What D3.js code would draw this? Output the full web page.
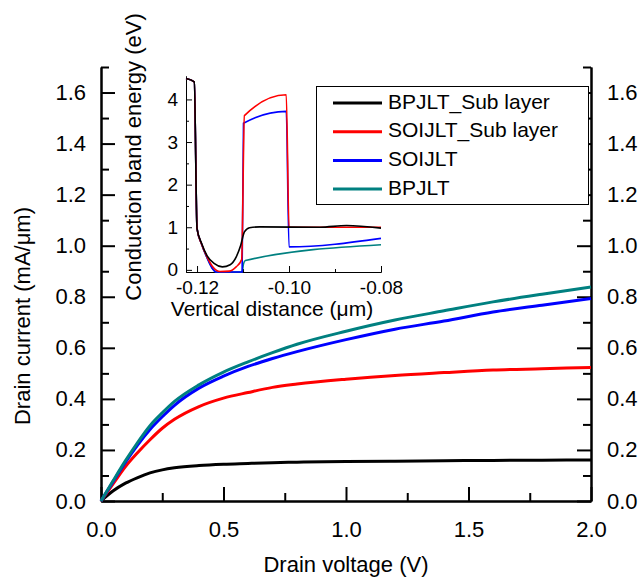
<!DOCTYPE html>
<html lang="en">
	<head>
		<meta charset="utf-8">
		<title>Drain current</title>
		<script type="text/javascript" src="https://cdn.jsdelivr.net/npm/d3@7"></script>
		<style type="text/css">
			body { margin: 0; background: #fff; }
			svg { display: block; }
			svg text { font-family: "Liberation Sans", Arial, sans-serif; }
		</style>
	</head>
	<body>
        <svg width="640" height="583"></svg>
		<script type="text/javascript">

            // main plot: drain current vs drain voltage
            const seriesNames = ['BPJLT_Sub layer', 'SOIJLT_Sub layer', 'SOIJLT', 'BPJLT'];
            const seriesColors = ['#000000', '#ff0000', '#0000ff', '#008080'];

            const voltage = [0, 0.05, 0.1, 0.15, 0.2, 0.25, 0.3, 0.4, 0.5, 0.6, 0.7, 0.8, 1.0, 1.2, 1.4, 1.6, 1.8, 2.0];
            const bpjltSub = [0, 0.040, 0.070, 0.092, 0.110, 0.122, 0.130, 0.139, 0.144, 0.147, 0.150, 0.152, 0.155, 0.156, 0.158, 0.159, 0.160, 0.161];
            const soijltSub = [0, 0.068, 0.135, 0.190, 0.240, 0.285, 0.320, 0.370, 0.403, 0.425, 0.445, 0.458, 0.477, 0.492, 0.503, 0.513, 0.518, 0.523];
            const soijlt = [0, 0.077, 0.152, 0.220, 0.280, 0.330, 0.375, 0.442, 0.489, 0.527, 0.558, 0.585, 0.632, 0.673, 0.705, 0.740, 0.767, 0.793];
            const bpjlt = [0, 0.080, 0.158, 0.230, 0.295, 0.345, 0.390, 0.455, 0.505, 0.545, 0.581, 0.614, 0.665, 0.709, 0.745, 0.780, 0.810, 0.838];

            const xMajorTicks = [0, 0.5, 1.0, 1.5, 2.0];
            const xMinorTicks = [0.25, 0.75, 1.25, 1.75];
            const yMajorTicks = [0, 0.2, 0.4, 0.6, 0.8, 1.0, 1.2, 1.4, 1.6];
            const yMinorTicks = [0.1, 0.3, 0.5, 0.7, 0.9, 1.1, 1.3, 1.5, 1.7];

            // inset: conduction band energy vs vertical distance
            const insetBpjltSubX = [-0.1224, -0.1206, -0.1200, -0.1190, -0.1178, -0.1163, -0.1145, -0.1128, -0.1115, -0.1105, -0.1097, -0.1086, -0.1064, -0.0933, -0.0875, -0.0800];
            const insetBpjltSubY = [4.49, 4.41, 0.97, 0.62, 0.33, 0.15, 0.07, 0.12, 0.30, 0.58, 0.89, 0.99, 1.01, 1.00, 1.04, 0.98];
            const insetSoijltSubX = [-0.1224, -0.1206, -0.1200, -0.1190, -0.1178, -0.1165, -0.1150, -0.1130, -0.1115, -0.1103, -0.1097, -0.1006, -0.1000, -0.0800];
            const insetSoijltSubY = [4.49, 4.41, 0.97, 0.60, 0.30, 0.06, -0.04, -0.03, 0.07, 0.24, 3.62, 4.11, 1.00, 1.00];
            const insetSoijltX = [-0.1224, -0.1206, -0.1200, -0.1190, -0.1178, -0.1167, -0.1158, -0.1102, -0.1099, -0.1006, -0.1000, -0.0800];
            const insetSoijltY = [4.49, 4.41, 0.97, 0.60, 0.28, 0.04, -0.05, -0.05, 3.44, 3.72, 0.54, 0.74];
            const insetBpjltX = [-0.1224, -0.1206, -0.1200, -0.1190, -0.1178, -0.1167, -0.1158, -0.1102, -0.1099, -0.1095, -0.0800];
            const insetBpjltY = [4.49, 4.41, 0.97, 0.60, 0.28, 0.04, -0.05, -0.05, 0.14, 0.22, 0.59];

            const insetXMajor = [-0.12, -0.10, -0.08];
            const insetXMinor = [-0.11, -0.09];
            const insetYMajor = [0, 1, 2, 3, 4];
            const insetYMinor = [0.5, 1.5, 2.5, 3.5];

            const margin = { left: 101, right: 49, top: 67, bottom: 82 };

            const svg = d3.select('svg');
            const width = +svg.attr('width');
            const height = +svg.attr('height');
            const innerWidth = width - margin.left - margin.right;
            const innerHeight = height - margin.top - margin.bottom;

            const g = svg.append('g')
                .attr('transform', `translate(${margin.left}, ${margin.top})`);

            const xScale = d3.scaleLinear().domain([0, 2]).range([0, innerWidth]);
            const yScale = d3.scaleLinear().domain([0, 1.7]).range([innerHeight, 0]);

            const styleAxis = (sel, fontSize, lineW) => {
                sel.attr('font-family', null).attr('font-size', null);
                sel.select('.domain').attr('stroke', '#000').attr('stroke-width', lineW);
                sel.selectAll('.tick line').attr('stroke', '#000').attr('stroke-width', lineW);
                sel.selectAll('.tick text').attr('fill', '#000').style('font-size', fontSize + 'px');
                // minor-tick axes carry empty labels: drop them
                sel.selectAll('.tick text').filter(function () { return this.textContent === ''; }).remove();
            };

            // minor ticks first, then major axes on top
            g.append('g').attr('transform', `translate(0, ${innerHeight})`)
                .call(d3.axisBottom(xScale).tickValues(xMinorTicks).tickFormat('').tickSize(-8).tickSizeOuter(0))
                .call(s => styleAxis(s, 21, 2));
            g.append('g')
                .call(d3.axisLeft(yScale).tickValues(yMinorTicks).tickFormat('').tickSize(-8).tickSizeOuter(0))
                .call(s => styleAxis(s, 21, 2));
            g.append('g').attr('transform', `translate(${innerWidth}, 0)`)
                .call(d3.axisRight(yScale).tickValues(yMinorTicks).tickFormat('').tickSize(-8).tickSizeOuter(0))
                .call(s => styleAxis(s, 21, 2));

            g.append('g').attr('transform', `translate(0, ${innerHeight})`)
                .call(d3.axisBottom(xScale).tickValues(xMajorTicks).tickFormat(d3.format('.1f')).tickSize(-14).tickSizeOuter(0).tickPadding(20))
                .call(s => styleAxis(s, 22, 2));
            g.append('g')
                .call(d3.axisLeft(yScale).tickValues(yMajorTicks).tickFormat(d3.format('.1f')).tickSize(-14).tickSizeOuter(0).tickPadding(15))
                .call(s => styleAxis(s, 22, 2));
            g.append('g').attr('transform', `translate(${innerWidth}, 0)`)
                .call(d3.axisRight(yScale).tickValues(yMajorTicks).tickFormat(d3.format('.1f')).tickSize(-14).tickSizeOuter(0).tickPadding(16))
                .call(s => styleAxis(s, 22, 2));

            const mainSeries = [bpjltSub, soijltSub, soijlt, bpjlt];
            const line = d3.line()
                .x(d => xScale(d[0]))
                .y(d => yScale(d[1]))
                .curve(d3.curveMonotoneX);

            mainSeries.forEach((vals, i) => {
                g.append('path')
                    .datum(voltage.map((v, j) => [v, vals[j]]))
                    .attr('fill', 'none')
                    .attr('stroke', seriesColors[i])
                    .attr('stroke-width', 3)
                    .attr('d', line);
            });

            svg.append('text')
                .attr('x', margin.left + innerWidth / 2)
                .attr('y', 566)
                .attr('text-anchor', 'middle')
                .attr('dominant-baseline', 'middle')
                .style('font-size', '22px')
                .text('Drain voltage (V)');

            svg.append('text')
                .attr('transform', 'translate(24, 316) rotate(-90)')
                .attr('text-anchor', 'middle')
                .attr('dominant-baseline', 'middle')
                .style('font-size', '22px')
                .text('Drain current (mA/μm)');

            // ---- inset ----
            const inset = { left: 186, right: 381, top: 76, bottom: 272 };
            const ix = d3.scaleLinear().domain([-0.1224, -0.08]).range([inset.left, inset.right]);
            const iy = d3.scaleLinear().domain([-0.05, 4.55]).range([inset.bottom, inset.top]);

            const ig = svg.append('g');

            ig.append('g').attr('transform', `translate(0, ${inset.bottom})`)
                .call(d3.axisBottom(ix).tickValues(insetXMinor).tickFormat('').tickSize(-3).tickSizeOuter(0))
                .call(s => styleAxis(s, 19, 1));
            ig.append('g').attr('transform', `translate(${inset.left}, 0)`)
                .call(d3.axisLeft(iy).tickValues(insetYMinor).tickFormat('').tickSize(-3).tickSizeOuter(0))
                .call(s => styleAxis(s, 19, 1));
            ig.append('g').attr('transform', `translate(0, ${inset.bottom})`)
                .call(d3.axisBottom(ix).tickValues(insetXMajor).tickFormat(d3.format('.2f')).tickSize(-6).tickSizeOuter(0).tickPadding(9))
                .call(s => styleAxis(s, 19, 1));
            ig.append('g').attr('transform', `translate(${inset.left}, 0)`)
                .call(d3.axisLeft(iy).tickValues(insetYMajor).tickFormat(d3.format('d')).tickSize(-6).tickSizeOuter(0).tickPadding(8))
                .call(s => styleAxis(s, 19, 1));
            // ASCII hyphen for negative labels, like the reference
            ig.selectAll('.tick text').text(function () { return this.textContent.replace('−', '-'); });

            const insetX = [insetBpjltX, insetSoijltX, insetSoijltSubX, insetBpjltSubX];
            const insetY = [insetBpjltY, insetSoijltY, insetSoijltSubY, insetBpjltSubY];
            const insetColors = [seriesColors[3], seriesColors[2], seriesColors[1], seriesColors[0]];

            const iline = d3.line()
                .x(d => ix(d[0]))
                .y(d => iy(d[1]))
                .curve(d3.curveMonotoneX);

            insetX.forEach((xs, i) => {
                ig.append('path')
                    .datum(xs.map((x, j) => [x, insetY[i][j]]))
                    .attr('fill', 'none')
                    .attr('stroke', insetColors[i])
                    .attr('stroke-width', 1.6)
                    .attr('d', iline);
            });

            svg.append('text')
                .attr('x', 272)
                .attr('y', 310)
                .attr('text-anchor', 'middle')
                .attr('dominant-baseline', 'middle')
                .style('font-size', '21px')
                .text('Vertical distance (μm)');

            svg.append('text')
                .attr('transform', 'translate(135, 157) rotate(-90)')
                .attr('text-anchor', 'middle')
                .attr('dominant-baseline', 'middle')
                .style('font-size', '22px')
                .text('Conduction band energy (eV)');

            // ---- legend ----
            const legend = svg.append('g');
            legend.append('rect')
                .attr('x', 316.5).attr('y', 86.5)
                .attr('width', 272).attr('height', 118)
                .attr('fill', '#fff')
                .attr('stroke', '#000')
                .attr('stroke-width', 1);

            seriesNames.forEach((name, i) => {
                const yy = 103 + i * 28.7;
                legend.append('line')
                    .attr('x1', 333).attr('x2', 382)
                    .attr('y1', yy).attr('y2', yy)
                    .attr('stroke', seriesColors[i])
                    .attr('stroke-width', 3);
                legend.append('text')
                    .attr('x', 388).attr('y', yy)
                    .attr('dominant-baseline', 'middle')
                    .style('font-size', '21px')
                    .text(name);
            });

		</script>
	</body>
</html>
